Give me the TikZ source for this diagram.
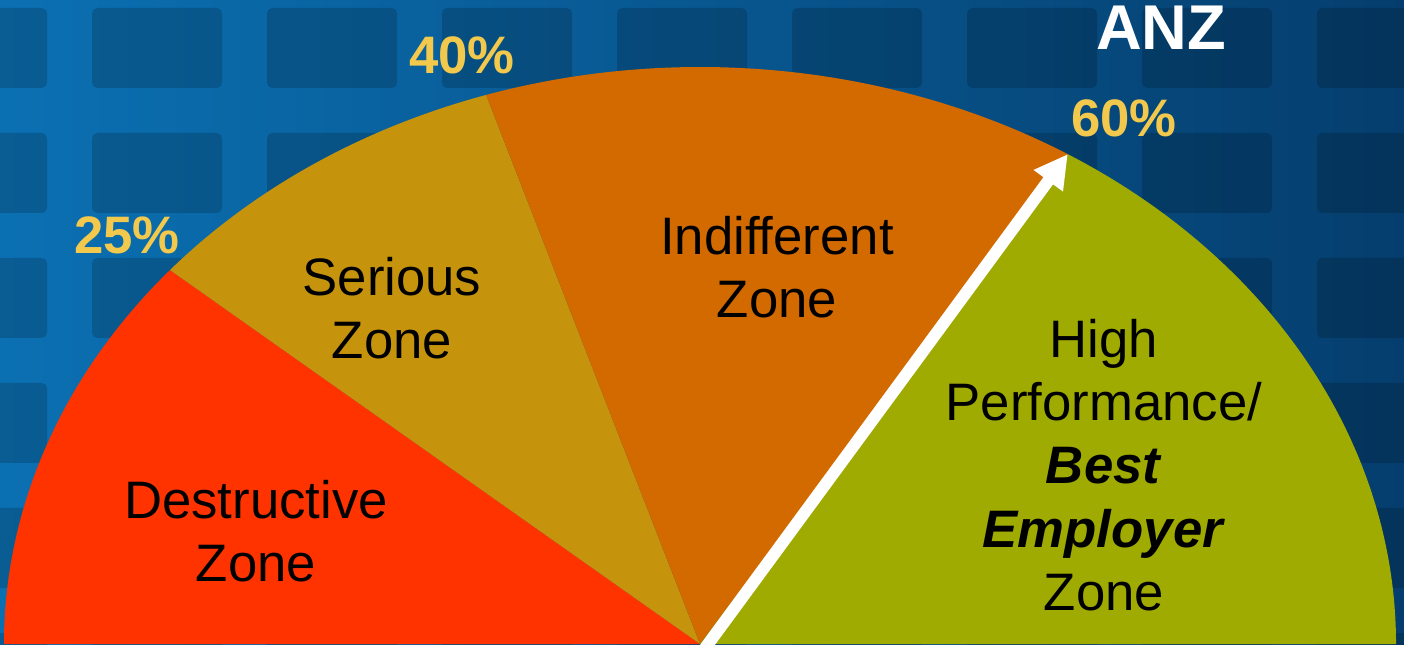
\documentclass[tikz,border=0pt]{standalone}
\usepackage{fontspec}
\setmainfont{Liberation Sans}
\usetikzlibrary{calc,arrows.meta}
\definecolor{bgleft}{HTML}{0B70B2}
\definecolor{bgright}{HTML}{053E6E}
\definecolor{destructive}{HTML}{FF3300}
\definecolor{serious}{HTML}{C6930C}
\definecolor{indifferent}{HTML}{D26A00}
\definecolor{highperf}{HTML}{A0AB02}
\definecolor{pctyellow}{HTML}{F2C94C}

\begin{document}
\begin{tikzpicture}
  \useasboundingbox (0,0) rectangle (14.04,6.44);

  % window grid behind the gauge
  \shade[left color=bgleft, right color=bgright] (0,0) rectangle (14.04,6.44);
  \foreach \col in {0,...,8}
    \foreach \row in {0,...,5}
      \fill[black, opacity=0.17, rounded corners=1.5pt]
        ({-0.83+1.75*\col}, {6.36-1.25*\row}) rectangle ++(1.30,-0.80);

  % gauge: half ellipse cut at 25, 40 and 60 per cent
  \coordinate (hub) at (7,0);
  \coordinate (p0)  at ($(hub)+(180:6.96 and 5.77)$);
  \coordinate (p25) at ($(hub)+(139.6:6.96 and 5.77)$);
  \coordinate (p40) at ($(hub)+(107.9:6.96 and 5.77)$);
  \coordinate (p60) at ($(hub)+(58.1:6.96 and 5.77)$);
  \coordinate (tail) at (7.03,-0.07);

  \fill[destructive] (hub) -- (p0)
    arc[start angle=180, end angle=139.6, x radius=6.96, y radius=5.77] -- cycle;
  \fill[serious] (hub) -- (p25)
    arc[start angle=139.6, end angle=107.9, x radius=6.96, y radius=5.77] -- cycle;
  \fill[indifferent] (hub) -- (p40)
    arc[start angle=107.9, end angle=58.1, x radius=6.96, y radius=5.77] -- cycle;
  \fill[highperf] (hub) -- (p60)
    arc[start angle=58.1, end angle=0, x radius=6.96, y radius=5.77] -- cycle;

  % pointer up to the 60% mark
  \draw[white, line width=0.12cm, -{Triangle[length=0.33cm, width=0.34cm]}]
    (tail) -- (p60);

  % zone names
  \node[font=\fontsize{15}{18}\selectfont, align=center] (destr) at (2.56,1.13)
    {Destructive\\Zone};
  \node[font=\fontsize{15}{18}\selectfont, align=center] (serio) at (3.92,3.36)
    {Serious\\Zone};
  \node[font=\fontsize{15}{18}\selectfont, align=center] (indiff) at (7.77,3.77)
    {Indifferent\\Zone};
  \node[font=\fontsize{15}{18}\selectfont, align=center] (best) at (11.04,1.79)
    {High\\Performance/\\\textbf{\textit{Best}}\\\textbf{\textit{Employer}}\\Zone};

  % percentage marks
  \node[pctyellow, font=\fontsize{15}{18}\selectfont\bfseries] (m25) at (1.27,4.09) {25\%};
  \node[pctyellow, font=\fontsize{15}{18}\selectfont\bfseries] (m40) at (4.62,5.89) {40\%};
  \node[pctyellow, font=\fontsize{15}{18}\selectfont\bfseries] (m60) at (11.24,5.26) {60\%};
  \node[white, font=\fontsize{18}{20}\selectfont\bfseries] (anz) at (11.61,6.16) {ANZ};
\end{tikzpicture}
\end{document}
